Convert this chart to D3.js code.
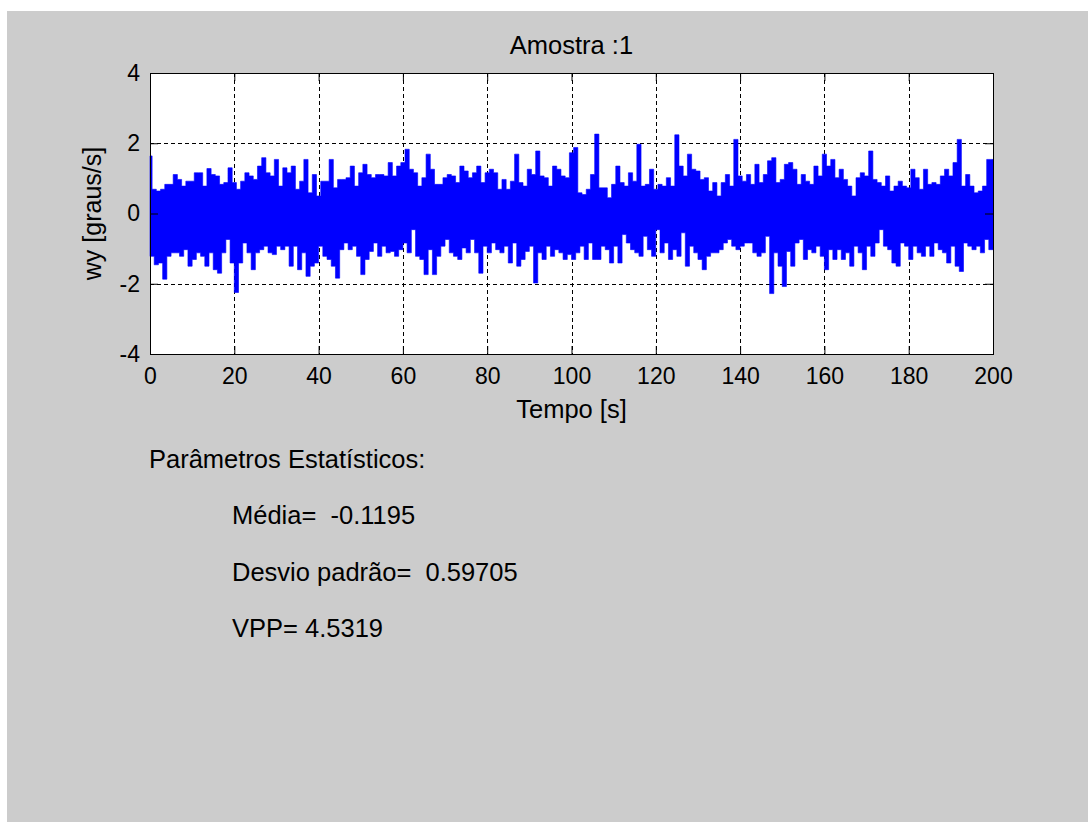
<!DOCTYPE html>
<html>
<head>
<meta charset="utf-8">
<script src="https://cdn.jsdelivr.net/npm/d3@7"></script>
<style>
  body { margin: 0; background: #fff; }
  svg { display: block; }
  text { font-family: Arial, "Liberation Sans", sans-serif; fill: #000; }
</style>
</head>
<body>
<svg id="fig" width="1088" height="822"></svg>
<script>
// envelope of the signal, one peak and one trough per second
const peaks = [
  1.64, 0.69, 0.64, 0.69, 0.83, 0.83, 1.11, 0.97, 0.78, 0.92,
  0.92, 1.16, 1.16, 0.78, 1.28, 1.11, 1.07, 0.83, 0.88, 1.30,
  0.88, 0.69, 0.92, 1.16, 1.07, 0.97, 1.35, 1.59, 1.16, 1.07,
  1.54, 0.78, 1.30, 1.16, 1.35, 0.69, 0.92, 1.54, 0.59, 1.11,
  0.50, 0.92, 0.92, 1.54, 0.73, 0.97, 0.97, 1.02, 1.35, 0.78,
  1.16, 1.40, 1.11, 1.02, 1.11, 1.11, 1.07, 1.45, 1.07, 1.35,
  1.45, 1.83, 1.26, 1.16, 0.78, 1.02, 1.69, 1.26, 0.83, 0.83,
  1.02, 1.11, 1.07, 0.88, 1.35, 1.21, 1.02, 1.16, 1.35, 0.88,
  1.16, 1.26, 1.16, 0.69, 0.97, 0.69, 0.92, 1.69, 0.88, 0.78,
  1.26, 1.11, 1.78, 1.07, 1.02, 0.78, 1.35, 1.26, 1.07, 1.02,
  1.73, 1.88, 0.59, 0.54, 0.69, 1.11, 2.26, 0.73, 0.73, 0.45,
  0.83, 1.35, 0.88, 0.78, 1.16, 0.92, 1.97, 0.78, 0.83, 1.26,
  0.69, 0.83, 0.78, 1.02, 0.78, 2.24, 1.35, 1.07, 1.69, 1.26,
  1.21, 0.97, 1.02, 0.64, 0.88, 0.50, 0.88, 1.11, 0.78, 2.11,
  1.07, 0.92, 1.11, 0.83, 1.40, 0.88, 1.11, 1.50, 1.59, 0.88,
  0.97, 1.40, 1.45, 1.26, 0.83, 1.11, 0.92, 0.83, 1.35, 1.07,
  1.69, 1.35, 1.54, 1.02, 1.26, 0.97, 0.78, 0.50, 1.02, 1.16,
  1.07, 1.78, 0.97, 0.88, 0.78, 1.07, 0.64, 0.78, 0.92, 0.78,
  0.73, 1.26, 1.02, 0.69, 1.26, 0.83, 0.88, 0.83, 1.07, 1.26,
  1.07, 1.45, 2.11, 0.78, 1.11, 0.78, 0.59, 0.64, 0.78, 1.54
]
const troughs = [
  -1.22, -1.46, -1.41, -1.87, -1.22, -1.12, -1.12, -1.22, -1.03, -1.50,
  -1.31, -1.12, -1.22, -1.50, -1.12, -1.60, -1.70, -1.12, -0.74, -1.41,
  -2.25, -1.41, -0.84, -1.12, -1.60, -1.12, -1.03, -0.93, -1.12, -1.17,
  -0.93, -1.03, -0.93, -1.50, -0.93, -1.60, -1.12, -1.79, -1.50, -1.41,
  -0.93, -1.22, -1.31, -1.50, -1.84, -1.03, -0.84, -1.03, -0.93, -1.22,
  -1.74, -1.31, -1.08, -0.84, -1.22, -0.93, -1.12, -1.08, -1.22, -1.03,
  -0.84, -1.12, -0.46, -1.22, -1.31, -1.74, -1.03, -1.74, -1.22, -0.93,
  -0.74, -1.12, -1.22, -1.31, -0.98, -1.12, -0.74, -1.12, -1.70, -0.93,
  -1.12, -0.84, -1.03, -1.12, -0.93, -1.41, -0.84, -1.50, -1.31, -1.08,
  -0.93, -1.98, -1.12, -1.31, -0.93, -1.22, -1.03, -1.12, -1.31, -1.17,
  -1.31, -1.12, -0.93, -1.31, -0.84, -1.31, -1.31, -0.93, -1.03, -1.41,
  -0.93, -1.41, -0.60, -0.84, -1.03, -1.12, -1.22, -0.65, -1.03, -1.22,
  -0.46, -1.12, -0.84, -1.31, -1.03, -1.22, -0.55, -1.50, -0.93, -1.12,
  -1.31, -1.60, -1.22, -1.12, -1.12, -1.03, -0.84, -0.74, -0.93, -1.03,
  -0.93, -0.84, -0.84, -1.12, -1.22, -1.12, -0.65, -2.28, -1.12, -1.50,
  -2.08, -1.08, -1.50, -0.84, -0.74, -1.31, -1.03, -1.12, -0.93, -1.22,
  -1.60, -1.03, -1.31, -1.03, -1.31, -1.12, -1.50, -0.93, -1.12, -1.60,
  -0.93, -1.22, -0.84, -0.46, -0.93, -1.03, -1.41, -1.50, -0.84, -0.93,
  -1.31, -0.93, -1.12, -1.22, -0.93, -1.22, -0.84, -1.03, -1.12, -1.41,
  -0.93, -1.50, -1.65, -0.84, -0.93, -1.03, -0.93, -1.12, -0.74, -1.03
]
const xTicks = [0, 20, 40, 60, 80, 100, 120, 140, 160, 180, 200]
const yTicks = [-4, -2, 0, 2, 4]
const title = 'Amostra :1'
const xLabel = 'Tempo [s]'
const yLabel = 'wy [graus/s]'
const statsHeader = 'Parâmetros Estatísticos:'
const statsLines = ['Média=  -0.1195', 'Desvio padrão=  0.59705', 'VPP= 4.5319']

const W = 1088
const H = 822
const box = { left: 150, top: 73, right: 993, bottom: 354 }
const tickFont = 23
const textFont = 25.5

const svg = d3.select('#fig')

// figure background (gray panel, thin white margin top/left)
svg.append('rect').attr('x', 7).attr('y', 11)
  .attr('width', W - 7).attr('height', H - 11)
  .attr('fill', '#cccccc')

const x = d3.scaleLinear().domain([0, 200]).range([box.left, box.right])
const y = d3.scaleLinear().domain([-4, 4]).range([box.bottom, box.top])

svg.append('rect')
  .attr('x', box.left).attr('y', box.top)
  .attr('width', box.right - box.left).attr('height', box.bottom - box.top)
  .attr('fill', '#fff')

// grid
const grid = svg.append('g').attr('stroke', '#000').attr('stroke-dasharray', '4,3')
  .attr('shape-rendering', 'crispEdges')
grid.selectAll('line.gx').data(xTicks.slice(1, -1)).enter().append('line')
  .attr('x1', d => Math.round(x(d)) + 0.5).attr('x2', d => Math.round(x(d)) + 0.5)
  .attr('y1', box.top).attr('y2', box.bottom)
grid.selectAll('line.gy').data(yTicks.slice(1, -1)).enter().append('line')
  .attr('y1', d => Math.round(y(d)) + 0.5).attr('y2', d => Math.round(y(d)) + 0.5)
  .attr('x1', box.left).attr('x2', box.right)

// signal band: peaks along the top, troughs (half a second later) along the bottom,
// drawn as steps so the edges look like the dense vertical strokes of the trace
const topEdge = peaks.map((p, i) => [i, p])
topEdge.push([200, peaks[peaks.length - 1]])
const bottomEdge = troughs.map((v, i) => [i + 0.5, v])
bottomEdge.unshift([0, troughs[0]])
bottomEdge.push([200, troughs[troughs.length - 1]])
const stepLine = d3.line().x(d => x(d[0])).y(d => y(d[1])).curve(d3.curveStep)
const bandPath = stepLine(topEdge) + 'L' + stepLine(bottomEdge.slice().reverse()).slice(1) + 'Z'
svg.append('path')
  .attr('d', bandPath)
  .attr('fill', '#0000ff')
  .attr('stroke', '#0000ff')
  .attr('stroke-width', 0.6)

// axes with inward ticks on all sides
const tickLen = 8
const fmt = d => String(d)
const axBottom = d3.axisBottom(x).tickValues(xTicks).tickSize(-tickLen).tickPadding(14).tickFormat(fmt)
const axTop = d3.axisTop(x).tickValues(xTicks).tickSize(-tickLen).tickFormat('')
const axLeft = d3.axisLeft(y).tickValues(yTicks).tickSize(-tickLen).tickPadding(10).tickFormat(fmt)
const axRight = d3.axisRight(y).tickValues(yTicks).tickSize(-tickLen).tickFormat('')

function styleAxis(g) {
  g.selectAll('path, line').attr('stroke', '#000')
  g.selectAll('text').attr('font-size', tickFont)
    .attr('font-family', 'Arial, "Liberation Sans", sans-serif').attr('fill', '#000')
}
svg.append('g').attr('transform', `translate(0,${box.bottom})`).call(axBottom).call(styleAxis)
svg.append('g').attr('transform', `translate(0,${box.top})`).call(axTop).call(styleAxis)
svg.append('g').attr('transform', `translate(${box.left},0)`).call(axLeft).call(styleAxis)
svg.append('g').attr('transform', `translate(${box.right},0)`).call(axRight).call(styleAxis)
svg.selectAll('.domain').attr('shape-rendering', 'crispEdges')

// titles
svg.append('text').attr('x', (box.left + box.right) / 2).attr('y', 54)
  .attr('text-anchor', 'middle').attr('font-size', textFont).text(title)
svg.append('text').attr('x', (box.left + box.right) / 2).attr('y', 418)
  .attr('text-anchor', 'middle').attr('font-size', textFont).text(xLabel)
svg.append('text').attr('transform', `translate(101,${(box.top + box.bottom) / 2}) rotate(-90)`)
  .attr('text-anchor', 'middle').attr('font-size', 25).text(yLabel)

// statistics block
svg.append('text').attr('x', 149).attr('y', 468).attr('font-size', textFont).text(statsHeader)
svg.selectAll('text.stat').data(statsLines).enter().append('text')
  .attr('class', 'stat')
  .attr('x', 232)
  .attr('y', (d, i) => 524 + i * 56.5)
  .attr('font-size', textFont)
  .attr('xml:space', 'preserve')
  .style('white-space', 'pre')
  .text(d => d)
</script>
</body>
</html>
